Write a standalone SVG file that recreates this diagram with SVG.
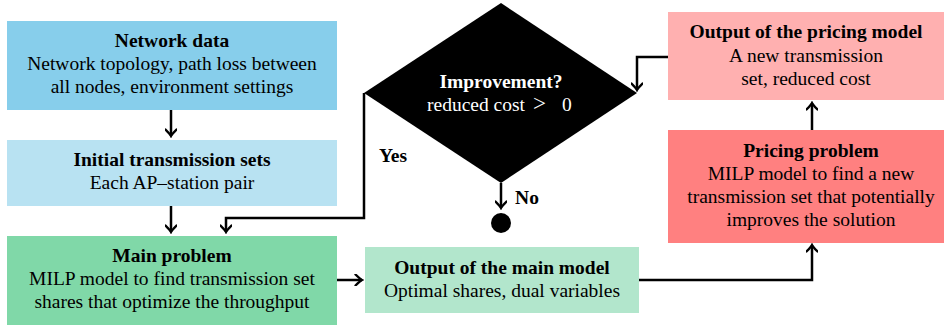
<svg xmlns="http://www.w3.org/2000/svg" width="944" height="328" viewBox="0 0 944 328">
<defs>
<style>
text{font-family:'Liberation Serif','Times New Roman',serif;font-size:19.5px;fill:#000;text-anchor:middle}
.b{font-weight:bold}
.w{fill:#fff}
.s{text-anchor:start}
.c{fill:none;stroke:#000;stroke-width:2.5}
</style>
<marker id="ah" viewBox="-8 -6 10 12" markerWidth="10" markerHeight="12" refX="0" refY="0" orient="auto" markerUnits="userSpaceOnUse">
<path d="M-6.5,-5.5 Q-2,-1 0,0 Q-2,1 -6.5,5.5" fill="none" stroke="#000" stroke-width="2.3" stroke-linecap="round"/>
</marker>
</defs>
<rect width="944" height="328" fill="#fff"/>
<g id="network-data">
<rect x="7" y="21" width="330" height="89" fill="#87CEEB"/>
<text x="172" y="47" class="b">Network data</text>
<text x="172" y="70">Network topology, path loss between</text>
<text x="172" y="93">all nodes, environment settings</text>
</g>
<g id="initial-sets">
<rect x="7" y="140" width="330" height="66" fill="#B8E2F2"/>
<text x="172" y="166" class="b">Initial transmission sets</text>
<text x="172" y="189">Each AP–station pair</text>
</g>
<g id="main-problem">
<rect x="7" y="236" width="330" height="89" fill="#80D8A8"/>
<text x="172" y="262" class="b">Main problem</text>
<text x="172" y="285">MILP model to find transmission set</text>
<text x="172" y="308">shares that optimize the throughput</text>
</g>
<g id="output-main">
<rect x="365" y="247" width="274" height="66" fill="#B2E6CC"/>
<text x="502" y="274" class="b">Output of the main model</text>
<text x="502" y="297">Optimal shares, dual variables</text>
</g>
<g id="pricing-problem">
<rect x="668" y="130" width="276" height="113" fill="#FF8080"/>
<text x="811" y="157" class="b">Pricing problem</text>
<text x="811" y="180">MILP model to find a new</text>
<text x="811" y="203">transmission set that potentially</text>
<text x="811" y="226">improves the solution</text>
</g>
<g id="output-pricing">
<rect x="668" y="12" width="276" height="88" fill="#FFB0B0"/>
<text x="806" y="38" class="b">Output of the pricing model</text>
<text x="806" y="62">A new transmission</text>
<text x="806" y="85">set, reduced cost</text>
</g>
<g id="decision">
<polygon points="501,3 637,93 501,183 364,93" fill="#000"/>
<text x="501" y="88" class="b w">Improvement?</text>
<text x="427" y="111" class="w s">reduced cost<tspan x="533" font-size="23">&gt;</tspan><tspan x="562">0</tspan></text>
</g>
<g id="end">
<circle cx="501" cy="223" r="10" fill="#000"/>
</g>
<g id="connectors">
<path class="c" d="M171,110 V136" marker-end="url(#ah)"/>
<path class="c" d="M171,206 V232" marker-end="url(#ah)"/>
<path class="c" d="M364,93 V218 H226 V232" marker-end="url(#ah)"/>
<path class="c" d="M501,183 V208" marker-end="url(#ah)"/>
<path class="c" d="M337,280 H362" marker-end="url(#ah)"/>
<path class="c" d="M639,280 H812 V245" marker-end="url(#ah)"/>
<path class="c" d="M812,130 V103" marker-end="url(#ah)"/>
<path class="c" d="M668,57 H637 V90" marker-end="url(#ah)"/>
<text x="393" y="162" class="b">Yes</text>
<text x="527" y="204" class="b">No</text>
</g>
</svg>
